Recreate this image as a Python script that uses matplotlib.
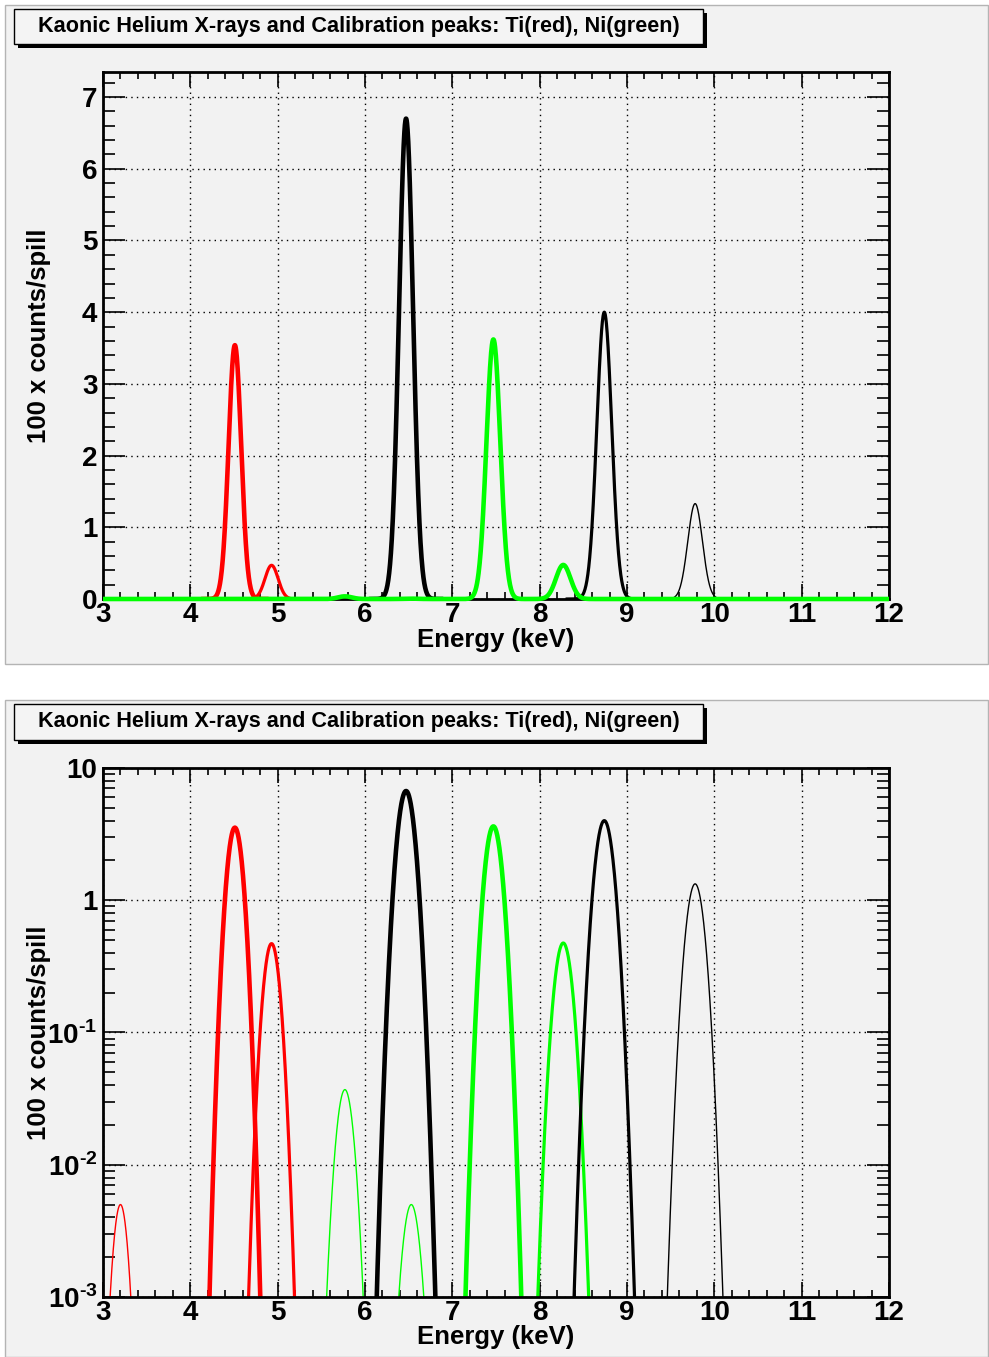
import numpy as np
import matplotlib
matplotlib.use("Agg")
import matplotlib.pyplot as plt
from matplotlib.patches import Rectangle
from matplotlib.ticker import MultipleLocator, FixedLocator, FixedFormatter, NullFormatter

plt.rcParams['font.family'] = ['Liberation Sans', 'DejaVu Sans']
plt.rcParams['font.weight'] = 'bold'
plt.rcParams['mathtext.fontset'] = 'custom'
plt.rcParams['mathtext.rm'] = 'Liberation Sans:bold'
plt.rcParams['mathtext.bf'] = 'Liberation Sans:bold'

# Peaks (energy in keV, height in 100 x counts/spill, gaussian sigma in keV)
peak_energy = [3.20, 4.51, 4.93, 5.77, 6.47, 6.53, 7.47, 8.27, 8.74, 9.78]
peak_height = [0.005, 3.54, 0.47, 0.037, 6.70, 0.005, 3.62, 0.475, 4.00, 1.33]
peak_sigma = [0.066, 0.072, 0.075, 0.078, 0.080, 0.080, 0.079, 0.083, 0.085, 0.084]
peak_source = ['Ti', 'Ti', 'Ti', 'Ni', 'KHe', 'Ni', 'Ni', 'Ni', 'KHe', 'KHe']
peak_kind = ['weak', 'main', 'second', 'weak', 'main', 'weak', 'main', 'second', 'second', 'weak']

title = "Kaonic Helium X-rays and Calibration peaks: Ti(red), Ni(green)"
xlabel = "Energy (keV)"
ylabel = "100 x counts/spill"
log_ticks = [1e-3, 1e-2, 1e-1, 1, 10]
log_ticklabels = [r"$10^{\text{-3}}$", r"$10^{\text{-2}}$", r"$10^{\text{-1}}$", "1", "10"]

colors = {'Ti': '#ff0000', 'Ni': '#00ff00', 'KHe': '#000000'}
widths = {'main': 3.3, 'second': 2.3, 'weak': 1.0}

W, H = 989, 1357


def fx(x):
    return x / W


def fy(y):
    return 1 - y / H


def gauss(x, e, h, s):
    return h * np.exp(-0.5 * ((x - e) / s) ** 2)


fig = plt.figure(figsize=(W / 100, H / 100), dpi=100)

pads = [(5, 5, 988, 664), (5, 700, 988, 1357)]
axes_box = [(103, 72, 889, 599), (103, 768, 889, 1297)]
title_box = [(14, 9, 703, 44), (14, 704, 703, 740)]
xlabel_top = [628, 1325]

for (x0, y0, x1, y1) in pads:
    fig.add_artist(Rectangle((fx(x0), fy(y1)), fx(x1 - x0), (y1 - y0) / H,
                             transform=fig.transFigure, facecolor='#f2f2f2',
                             edgecolor='#b4b4b4', lw=1, zorder=0))

for i, (x0, y0, x1, y1) in enumerate(axes_box):
    ax = fig.add_axes([fx(x0), fy(y1), fx(x1 - x0), (y1 - y0) / H])
    ax.set_facecolor('#f2f2f2')
    logscale = (i == 1)
    xx = np.linspace(3, 12, 3000)

    for e, h, s, src, kind in zip(peak_energy, peak_height, peak_sigma, peak_source, peak_kind):
        if not logscale and src == 'Ni':
            continue
        xs = np.linspace(e - 5 * s, e + 5 * s, 400)
        ax.plot(xs, gauss(xs, e, h, s), color=colors[src], lw=widths[kind], zorder=3)

    if not logscale:
        # Ni sum drawn over the full range, on top of the frame
        ni_sum = np.zeros_like(xx)
        for e, h, s, src in zip(peak_energy, peak_height, peak_sigma, peak_source):
            if src == 'Ni':
                ni_sum += gauss(xx, e, h, s)
        ax.plot(xx, ni_sum, color=colors['Ni'], lw=widths['main'], zorder=4,
                solid_capstyle='butt', clip_on=False)

    ax.set_xlim(3, 12)
    ax.xaxis.set_major_locator(MultipleLocator(1))
    ax.xaxis.set_minor_locator(MultipleLocator(0.2))
    if logscale:
        ax.set_yscale('log')
        ax.set_ylim(1e-3, 10)
        ax.yaxis.set_major_locator(FixedLocator(log_ticks))
        ax.yaxis.set_major_formatter(FixedFormatter(log_ticklabels))
        minors = [m * 10.0 ** d for d in range(-3, 1) for m in range(2, 10)]
        ax.yaxis.set_minor_locator(FixedLocator(minors))
        ax.yaxis.set_minor_formatter(NullFormatter())
    else:
        ax.set_ylim(0, 7.35)
        ax.yaxis.set_major_locator(MultipleLocator(1))
        ax.yaxis.set_minor_locator(MultipleLocator(0.2))

    ax.grid(True, which='major', color='black', linestyle=(0, (1, 3)), lw=1)
    ax.tick_params(which='both', direction='in', top=True, right=True,
                   labelsize=20, width=1.2, color='black')
    ax.tick_params(axis='x', which='major', length=11, pad=2)
    ax.tick_params(axis='x', which='minor', length=5)
    ax.tick_params(axis='y', which='major', length=16, pad=4)
    ax.tick_params(axis='y', which='minor', length=8.5)
    for sp in ax.spines.values():
        sp.set_linewidth(2)
        sp.set_zorder(3.5)
    for lab in ax.get_xticklabels() + ax.get_yticklabels():
        lab.set_fontweight('bold')

    ax.set_xlabel(xlabel, fontsize=18.5, fontweight='bold')
    ax.xaxis.set_label_coords(0.5, -(xlabel_top[i] - y1) / (y1 - y0))
    ax.set_ylabel(ylabel, fontsize=18.5, fontweight='bold', va='center')
    ax.yaxis.set_label_coords(-(103 - 39) / (x1 - x0), 0.5)

for (x0, y0, x1, y1) in title_box:
    fig.add_artist(Rectangle((fx(x0 + 4), fy(y1 + 4)), fx(x1 - x0), (y1 - y0) / H,
                             transform=fig.transFigure, facecolor='black',
                             edgecolor='black', lw=0, zorder=5))
    fig.add_artist(Rectangle((fx(x0), fy(y1)), fx(x1 - x0), (y1 - y0) / H,
                             transform=fig.transFigure, facecolor='#f4f4f4',
                             edgecolor='black', lw=1, zorder=6))
    fig.text(fx((x0 + x1) / 2), fy((y0 + y1) / 2), title, ha='center', va='center',
             fontsize=15.6, fontweight='bold', zorder=7)

fig.savefig("out.png", dpi=100)
